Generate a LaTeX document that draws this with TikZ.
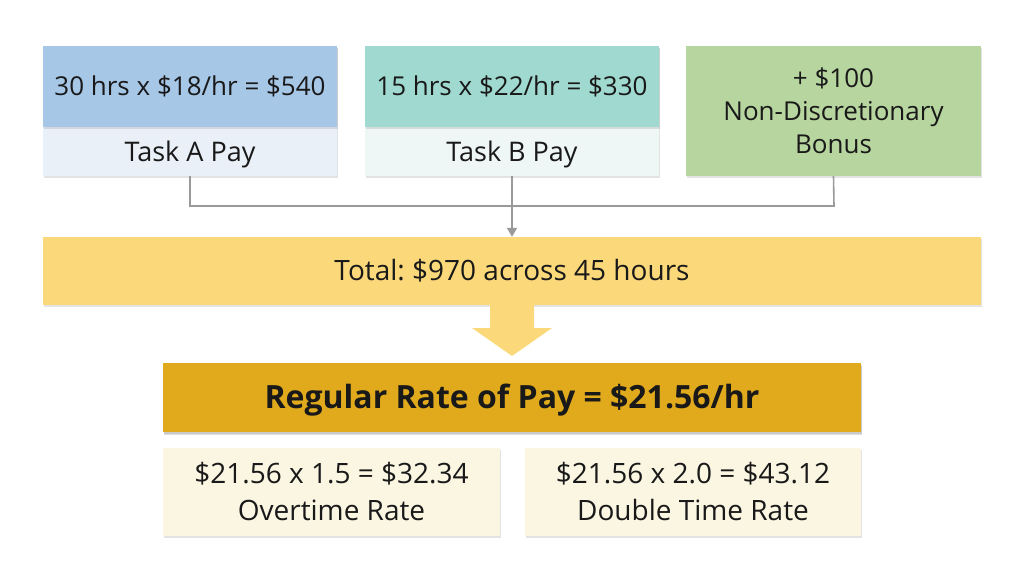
\documentclass[tikz,border=0pt]{standalone}
\usepackage{fontspec}
\setmainfont{Open Sans}
\frenchspacing
\usetikzlibrary{shadows,arrows.meta}
\definecolor{cblue}{HTML}{A7C7E7}
\definecolor{cbluel}{HTML}{E9F0F8}
\definecolor{cteal}{HTML}{9FD9CF}
\definecolor{ctealb}{HTML}{EEF7F5}
\definecolor{cgreen}{HTML}{B7D59F}
\definecolor{cyel}{HTML}{FBD97B}
\definecolor{cgold}{HTML}{E0AA1C}
\definecolor{ccream}{HTML}{FBF6E2}
\definecolor{cline}{HTML}{9A9A9A}
\tikzset{
  box/.style={draw=none, inner sep=0pt, align=center, text=black!90, font=\fontsize{26}{33}\selectfont,
    drop shadow={opacity=0.22, shadow xshift=1pt, shadow yshift=-2pt}},
  lab/.style={inner sep=0pt, text=black!90, font=\fontsize{27}{33}\selectfont},
  conn/.style={draw=cline, line width=1.6pt},
}
\begin{document}
\begin{tikzpicture}[x=1pt,y=-1pt]
\useasboundingbox[fill=white] (0,0) rectangle (1024,572);
% Task A
\node[box, fill=cbluel, minimum width=294pt, minimum height=130pt] (abg) at (190,111) {};
\node[box, fill=cblue, minimum width=294pt, minimum height=81pt, drop shadow={opacity=0}, text depth=0pt, text height=19pt] (atop) at (190,86.5) {30 hrs x \$18/hr = \$540};
\node[lab] (alab) at (190,154) {Task A Pay};
% Task B
\node[box, fill=ctealb, minimum width=294pt, minimum height=130pt] (bbg) at (512,111) {};
\node[box, fill=cteal, minimum width=294pt, minimum height=81pt, drop shadow={opacity=0}, text depth=0pt, text height=19pt] (btop) at (512,86.5) {15 hrs x \$22/hr = \$330};
\node[lab] (blab) at (512,154) {Task B Pay};
% Bonus
\node[box, fill=cgreen, minimum width=295pt, minimum height=130pt] (bonus) at (833.5,111) {+ \$100\\Non-Discretionary\\Bonus};
% Total
\node[box, fill=cyel, minimum width=938pt, minimum height=68pt, font=\fontsize{28}{33}\selectfont] (total) at (512,271) {Total: \$970 across 45 hours};
% connectors
\coordinate (j1) at (190,206);
\coordinate (j3) at (834,206);
\draw[conn] (abg.south) -- (j1) -- (j3) -- (bonus.south);
\draw[conn, -{Triangle[length=9pt,width=10pt]}] (bbg.south) -- (total.north);
% big arrow
\coordinate (tip) at (512,356);
\fill[cyel] (490,305) -- (534,305) -- (534,328) -- (552,328) -- (tip) -- (472,328) -- (490,328) -- cycle;
% Regular
\node[box, fill=cgold, minimum width=698pt, minimum height=69pt, drop shadow={opacity=0.25, shadow xshift=1pt, shadow yshift=-3pt}] (reg) at (512,397.5) {};
\node[inner sep=0pt, text=black!90, font=\fontsize{32}{38}\selectfont\bfseries] (regt) at (512,400) {Regular Rate of Pay = \$21.56/hr};
% bottom
\node[box, fill=ccream, minimum width=337pt, minimum height=88pt, font=\fontsize{28}{37}\selectfont] (ot) at (331.5,492) {\$21.56 x 1.5 = \$32.34\\Overtime Rate};
\node[box, fill=ccream, minimum width=336pt, minimum height=88pt, font=\fontsize{28}{37}\selectfont] (dt) at (693,492) {\$21.56 x 2.0 = \$43.12\\Double Time Rate};
\end{tikzpicture}
\end{document}
